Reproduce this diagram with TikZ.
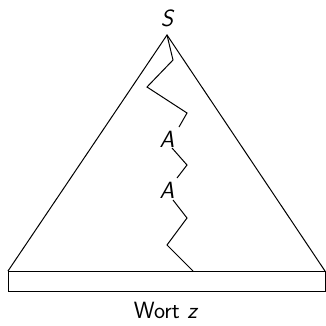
\documentclass[tikz,border=0pt]{standalone}
\begin{document}
\begin{tikzpicture}[x=1pt,y=-1pt,line width=1pt,
  lbl/.style={font=\fontsize{23.5}{28}\selectfont\sffamily\itshape, inner sep=0pt},
  wlbl/.style={font=\fontsize{23.5}{28}\selectfont\sffamily, inner sep=0pt}]
\useasboundingbox (0,0) rectangle (326,325);
\node[lbl] (S) at (167,18) {S};
\node[lbl] (A1) at (167,139) {A};
\node[lbl] (A2) at (167,190) {A};
\node[wlbl] (W) at (166,310) {Wort \textit{z}};
\coordinate (top) at (167,35);
\coordinate (bl) at (8,271);
\coordinate (br) at (325,271);
\coordinate (bb) at (325,291);
\coordinate (p1) at (173,60);
\coordinate (p2) at (147,87);
\coordinate (p3) at (187,113);
\coordinate (p4) at (179,127);
\coordinate (q0) at (172,148);
\coordinate (q1) at (187,165);
\coordinate (q2) at (177,178);
\coordinate (r0) at (173,200);
\coordinate (r1) at (187,218);
\coordinate (r2) at (167,245);
\coordinate (r3) at (193,271);
\draw (bl) -- (top) -- (br);
\draw (bl) rectangle (bb);
\draw (top) -- (p1) -- (p2) -- (p3) -- (p4);
\draw (q0) -- (q1) -- (q2);
\draw (r0) -- (r1) -- (r2) -- (r3);
\end{tikzpicture}
\end{document}
